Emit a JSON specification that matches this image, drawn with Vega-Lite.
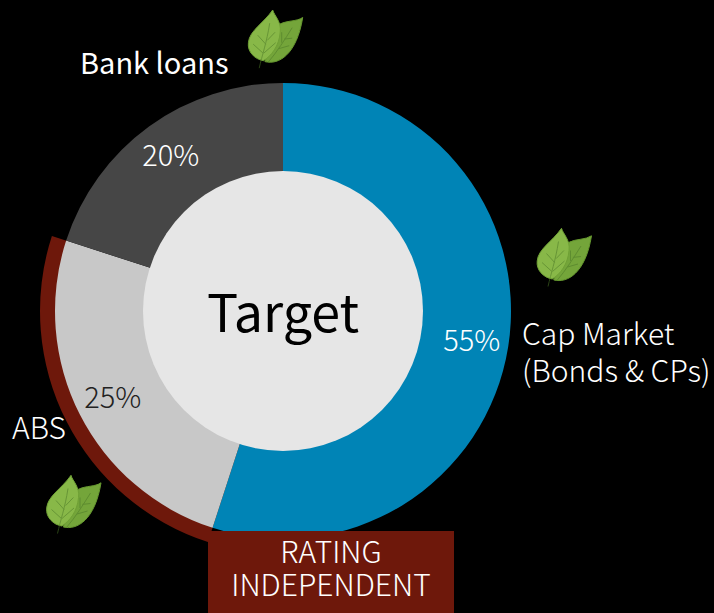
{
"$schema":"https://vega.github.io/schema/vega-lite/v6.json",
"width":714,"height":613,"padding":0,
"autosize":{"type":"fit","contains":"padding"},
"background":"#000000",
"config":{"view":{"stroke":null},"font":"Noto Sans CJK JP"},
"datasets":{
 "slices":[
  {"label":"Cap Market (Bonds & CPs)","share":55,"pct":"55%","rank":1},
  {"label":"ABS","share":25,"pct":"25%","rank":2},
  {"label":"Bank loans","share":20,"pct":"20%","rank":3}],
 "leaves":[{"x":275.7,"y":36.7},{"x":564.5,"y":255},{"x":74,"y":502}],
 "labels":[
  {"text":"Cap Market","x":522,"y":336},
  {"text":"(Bonds & CPs)","x":522,"y":373},
  {"text":"ABS","x":12,"y":430}]
},
"layer":[
 {"data":{"values":[{"segment":"Rating independent","from":55,"to":80}]},
  "mark":{"type":"arc","innerRadius":226,"outerRadius":243,"color":"#6e180b"},
  "encoding":{
   "x":{"datum":283,"type":"quantitative","scale":{"domain":[0,714],"nice":false,"zero":false},"axis":null},
   "y":{"datum":311,"type":"quantitative","scale":{"domain":[613,0],"nice":false,"zero":false},"axis":null},
   "theta":{"field":"from","type":"quantitative","scale":{"domain":[0,100]}},"theta2":{"field":"to"}}},
 {"data":{"name":"slices"},
  "mark":{"type":"arc","innerRadius":138,"outerRadius":228},
  "encoding":{
   "x":{"datum":283,"type":"quantitative"},
   "y":{"datum":311,"type":"quantitative"},
   "theta":{"field":"share","type":"quantitative","stack":true,"scale":{"domain":[0,100]}},
   "order":{"field":"rank"},
   "color":{"field":"label","type":"nominal","legend":null,"scale":{"domain":["Cap Market (Bonds & CPs)","ABS","Bank loans"],"range":["#0084b6","#c8c8c8","#464646"]}}}},
 {"data":{"values":[{"segment":"Target","from":0,"to":100}]},
  "mark":{"type":"arc","innerRadius":0,"outerRadius":140,"color":"#e6e6e6"},
  "encoding":{
   "x":{"datum":283,"type":"quantitative"},
   "y":{"datum":311,"type":"quantitative"},
   "theta":{"field":"from","type":"quantitative","scale":{"domain":[0,100]}},"theta2":{"field":"to"}}},
 {"data":{"name":"slices"},
  "mark":{"type":"text","radius":191,"fontSize":29,"fontWeight":300,"dy":1},
  "encoding":{
   "x":{"datum":283,"type":"quantitative"},
   "y":{"datum":311,"type":"quantitative"},
   "theta":{"field":"share","type":"quantitative","stack":true,"scale":{"domain":[0,100]}},
   "order":{"field":"rank"},
   "text":{"field":"pct"},
   "color":{"condition":{"test":"datum.label==='ABS'","value":"#222222"},"value":"#ffffff"}}},
 {"data":{"values":[{"text":"Target"}]},
  "mark":{"type":"text","fontSize":52,"fontWeight":400,"color":"#000000","dy":5},
  "encoding":{
   "x":{"datum":283,"type":"quantitative"},
   "y":{"datum":311,"type":"quantitative"},
   "text":{"field":"text"}}},
 {"data":{"values":[{"x":208,"x2":454,"y":531,"y2":613}]},
  "mark":{"type":"rect","color":"#6e180b"},
  "encoding":{"x":{"field":"x","type":"quantitative"},"x2":{"field":"x2"},"y":{"field":"y","type":"quantitative"},"y2":{"field":"y2"}}},
 {"data":{"values":[{"text":"RATING","x":331,"y":554},{"text":"INDEPENDENT","x":331,"y":587}]},
  "mark":{"type":"text","fontSize":30,"fontWeight":300,"color":"#ffffff"},
  "encoding":{"x":{"field":"x","type":"quantitative"},"y":{"field":"y","type":"quantitative"},"text":{"field":"text"}}},
 {"data":{"name":"labels"},
  "mark":{"type":"text","fontSize":30,"fontWeight":300,"color":"#ffffff","align":"left"},
  "encoding":{"x":{"field":"x","type":"quantitative"},"y":{"field":"y","type":"quantitative"},"text":{"field":"text"}}},
 {"data":{"values":[{"text":"Bank loans","x":80,"y":65}]},
  "mark":{"type":"text","fontSize":29,"fontWeight":400,"color":"#ffffff","align":"left"},
  "encoding":{"x":{"field":"x","type":"quantitative"},"y":{"field":"y","type":"quantitative"},"text":{"field":"text"}}},
 {"data":{"name":"leaves"},
  "mark":{"type":"point","filled":true,"size":3600,"opacity":1,"color":"#74a53a","stroke":"#66982f","strokeWidth":1,
   "shape":"M.9 -.64 C.7 -.5 .4 -.55 .14 -.42 L-.36 .83 C.1 .95 .7 .6 .9 -.64Z"},
  "encoding":{"x":{"field":"x","type":"quantitative"},"y":{"field":"y","type":"quantitative"}}},
 {"data":{"name":"leaves"},
  "mark":{"type":"point","filled":true,"size":3600,"opacity":1,"color":"#88b848","stroke":"#6fa035","strokeWidth":1,
   "shape":"M-.1 -.89 C-.05 -.7 .2 -.5 .15 -.15 C.12 .3 -.15 .65 -.41 .8 C-.7 .75 -.95 .5 -.91 .2 C-.88 -.2 -.4 -.45 -.1 -.89Z"},
  "encoding":{"x":{"field":"x","type":"quantitative"},"y":{"field":"y","type":"quantitative"}}},
 {"data":{"name":"leaves"},
  "mark":{"type":"point","filled":false,"size":3600,"opacity":0.55,"color":"#4d7a28","strokeWidth":1,
   "shape":"M-.55 1.05 C-.45 .6 -.3 .2 -.2 -.45 M-.42 .55 L-.75 .25 M-.33 .25 L-.6 -.05 M-.4 .55 L0 .2 M-.28 .12 L-.02 -.15 M-.25 .85 C.05 .5 .3 .1 .55 -.3 M.1 .4 L.45 .3 M.28 .08 L.55 .05 M.2 .2 L.2 -.15"},
  "encoding":{"x":{"field":"x","type":"quantitative"},"y":{"field":"y","type":"quantitative"}}}
]
}
